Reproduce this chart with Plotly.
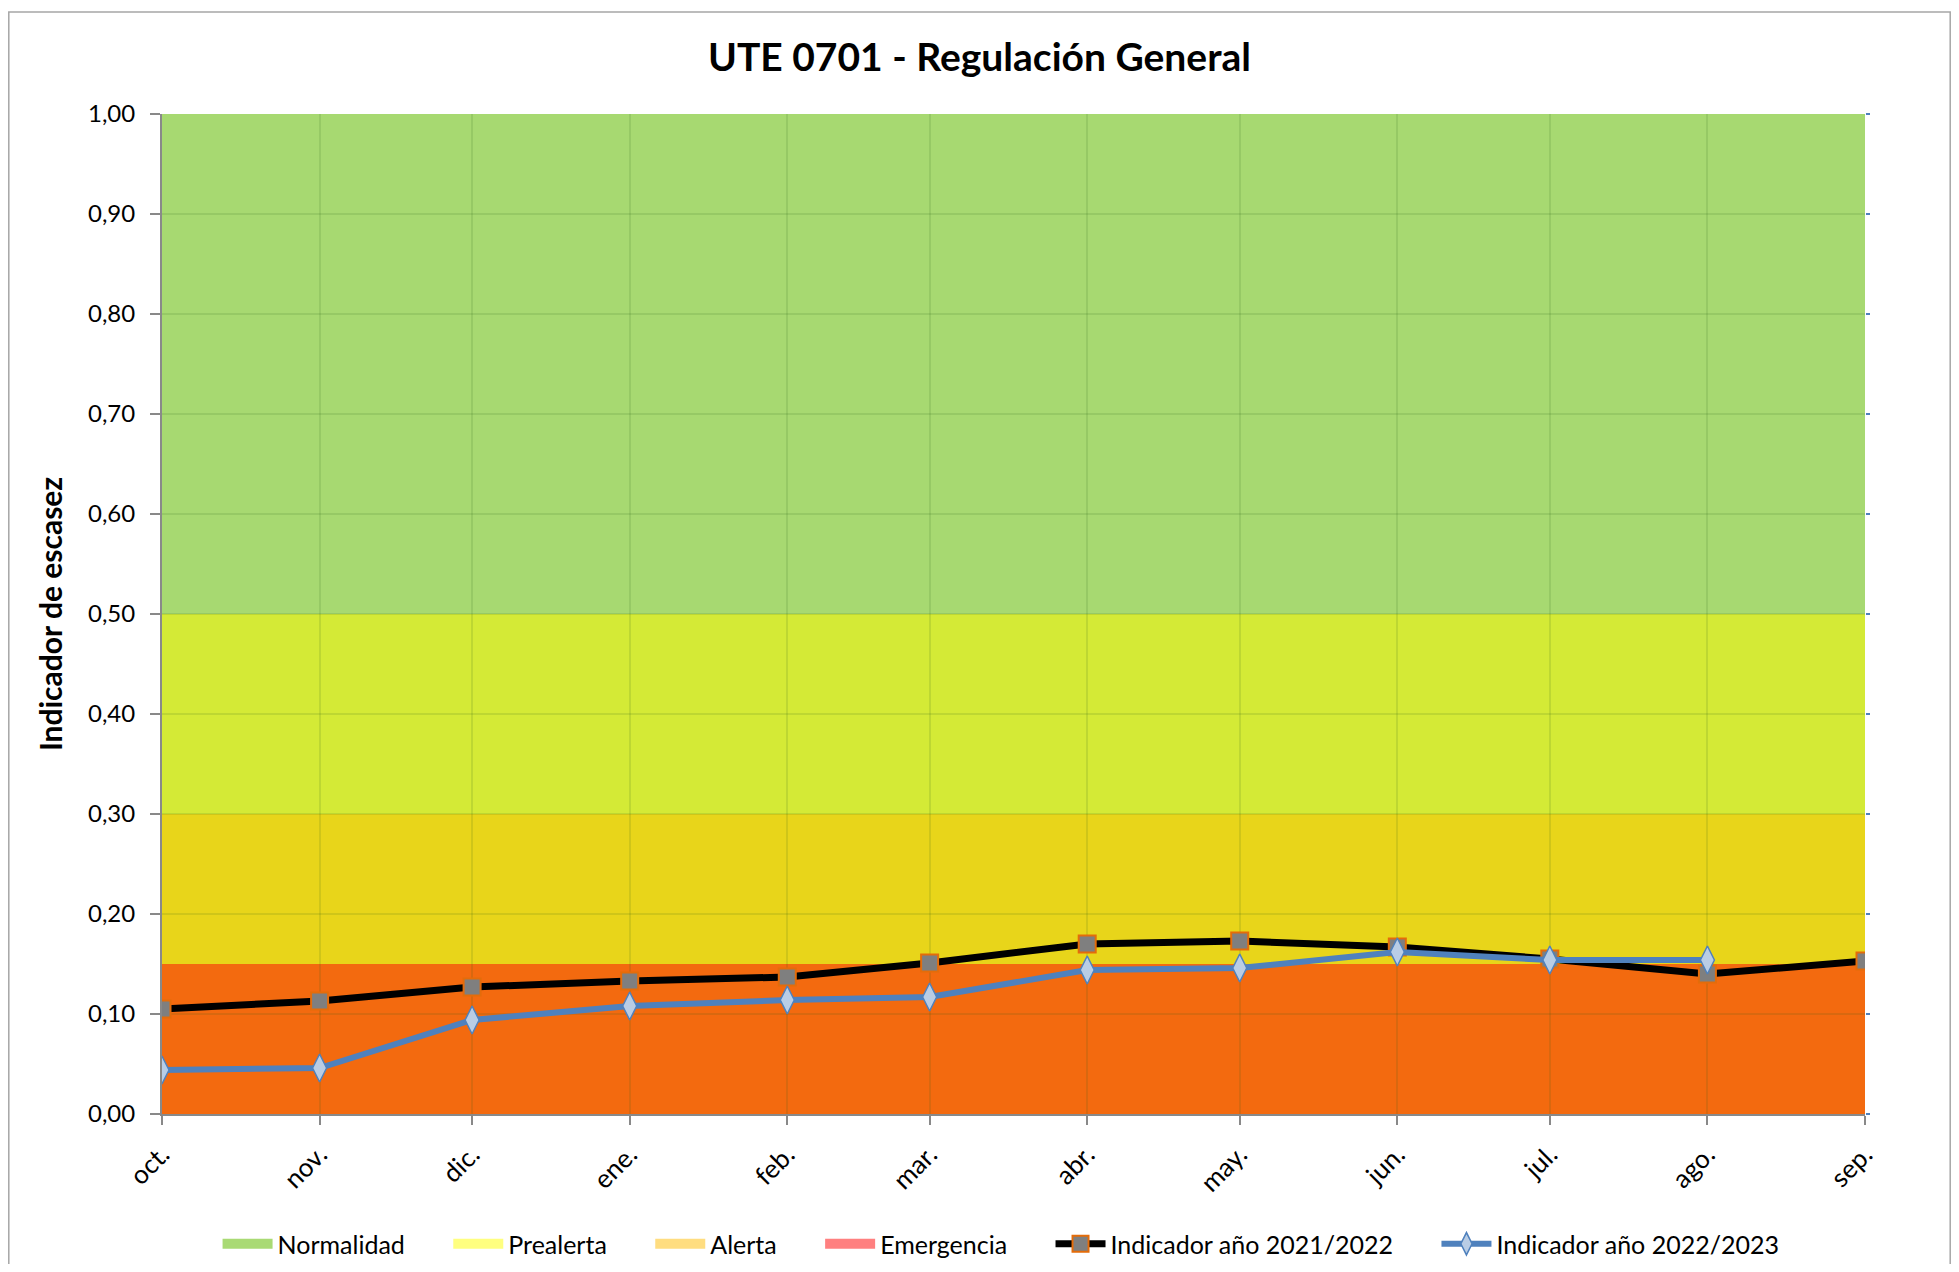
import plotly.graph_objects as go

# ---- data ----
months = ["2022-10-01", "2022-11-01", "2022-12-01", "2023-01-01", "2023-02-01", "2023-03-01",
          "2023-04-01", "2023-05-01", "2023-06-01", "2023-07-01", "2023-08-01", "2023-09-01"]
month_labels = ["oct.", "nov.", "dic.", "ene.", "feb.", "mar.", "abr.", "may.", "jun.", "jul.", "ago.", "sep."]
ind_2122 = [0.105, 0.113, 0.127, 0.133, 0.137, 0.151, 0.170, 0.173, 0.167, 0.155, 0.140, 0.153]
ind_2223 = [0.044, 0.046, 0.094, 0.108, 0.114, 0.117, 0.144, 0.146, 0.162, 0.154, 0.154, None]

band_names = ["Normalidad", "Prealerta", "Alerta", "Emergencia"]
band_low = [0.50, 0.30, 0.15, 0.00]
band_high = [1.00, 0.50, 0.30, 0.15]
band_fill = ["#A7D971", "#D4EA36", "#E8D51A", "#F36A0F"]
legend_fill = ["#A9DA74", "#FFFF80", "#FFDD80", "#FF8080"]
series_names = ["Indicador año 2021/2022", "Indicador año 2022/2023"]

y_ticks = [i / 10 for i in range(11)]
y_tick_text = [f"{v:.2f}".replace(".", ",") for v in y_ticks]

FONT = "Lato"
W, H = 1943, 1256  # page body has an 8px margin
PAD = "\u00a0" * 6  # spacing between legend entries

fig = go.Figure()

for name, col in zip(band_names, legend_fill):
    fig.add_trace(go.Scatter(x=[None], y=[None], mode="lines", name=name + PAD,
                             line=dict(color=col, width=16), hoverinfo="skip"))

fig.add_trace(go.Scatter(
    x=months, y=ind_2122, mode="lines+markers", name=series_names[0] + PAD,
    line=dict(color="black", width=7),
    marker=dict(symbol="square", size=17, color="#7F7F7F", line=dict(color="#E46C0A", width=2)),
))
fig.add_trace(go.Scatter(
    x=months, y=ind_2223, mode="lines+markers", name=series_names[1],
    line=dict(color="#4F81BD", width=6),
    marker=dict(symbol="diamond-tall", size=20, color="#B9CDE5", line=dict(color="#4F81BD", width=1.5)),
))
fig.add_trace(go.Scatter(x=[None], y=[None], yaxis="y2", showlegend=False, hoverinfo="skip"))

pl, pt, pw, ph = 154, 106, 1703, 1000

shapes = []
for lo, hi, col in zip(band_low, band_high, band_fill):
    shapes.append(dict(type="rect", xref="x", yref="y", x0=months[0], x1=months[-1],
                       y0=lo, y1=hi, fillcolor=col, line=dict(width=0), layer="below"))
# outer chart border
shapes.append(dict(type="rect", xref="paper", yref="paper",
                   x0=(0.8 - pl) / pw, x1=(W - 0.8 - pl) / pw,
                   y0=-0.2, y1=(pt - 4) / ph + 1,
                   line=dict(color="#A6A6A6", width=1.5),
                   fillcolor="rgba(0,0,0,0)", layer="above"))

fig.update_layout(
    width=W, height=H,
    margin=dict(l=pl, r=W - pl - pw, t=pt, b=H - pt - ph),
    paper_bgcolor="white", plot_bgcolor="white",
    font=dict(family=FONT, color="black", size=24),
    title=dict(text="<b>UTE 0701 - Regulación General</b>", x=0.48, xref="paper", xanchor="center",
               y=1 - 49 / H, yanchor="middle", font=dict(family=FONT, size=39, color="black")),
    shapes=shapes,
    showlegend=True,
    legend=dict(orientation="h", x=0.4927, xanchor="center", yref="container",
                y=1 - 1236 / H, yanchor="middle",
                font=dict(family=FONT, size=25, color="black"), bgcolor="rgba(0,0,0,0)",
                traceorder="normal", itemwidth=50),
    xaxis=dict(type="date", range=[months[0], months[-1]], tickvals=months, ticktext=month_labels,
               tickangle=-45, ticks="outside", ticklen=9, tickcolor="#898989", tickwidth=1.5,
               showline=True, linecolor="#898989", linewidth=2, ticklabelstandoff=4,
               showgrid=True, gridcolor="rgba(40,90,20,0.13)", gridwidth=1.5,
               tickfont=dict(family=FONT, size=26), zeroline=False, automargin=False),
    yaxis=dict(range=[0, 1], tickvals=y_ticks, ticktext=y_tick_text,
               ticks="outside", ticklen=10, tickcolor="#898989", tickwidth=1.5,
               showline=True, linecolor="#898989", linewidth=2, ticklabelstandoff=10,
               showgrid=True, gridcolor="rgba(40,90,20,0.13)", gridwidth=1.5,
               zeroline=False, tickfont=dict(family=FONT, size=24), automargin=False,
               title=dict(text="<b>Indicador de escasez</b>", standoff=16,
                          font=dict(family=FONT, size=30))),
    yaxis2=dict(range=[0, 1], overlaying="y", side="right", tickvals=y_ticks,
                showticklabels=False, ticks="outside", ticklen=4, tickcolor="#4F81BD", tickwidth=2,
                showgrid=False, showline=False, zeroline=False),
)

fig.write_html("out.html")
